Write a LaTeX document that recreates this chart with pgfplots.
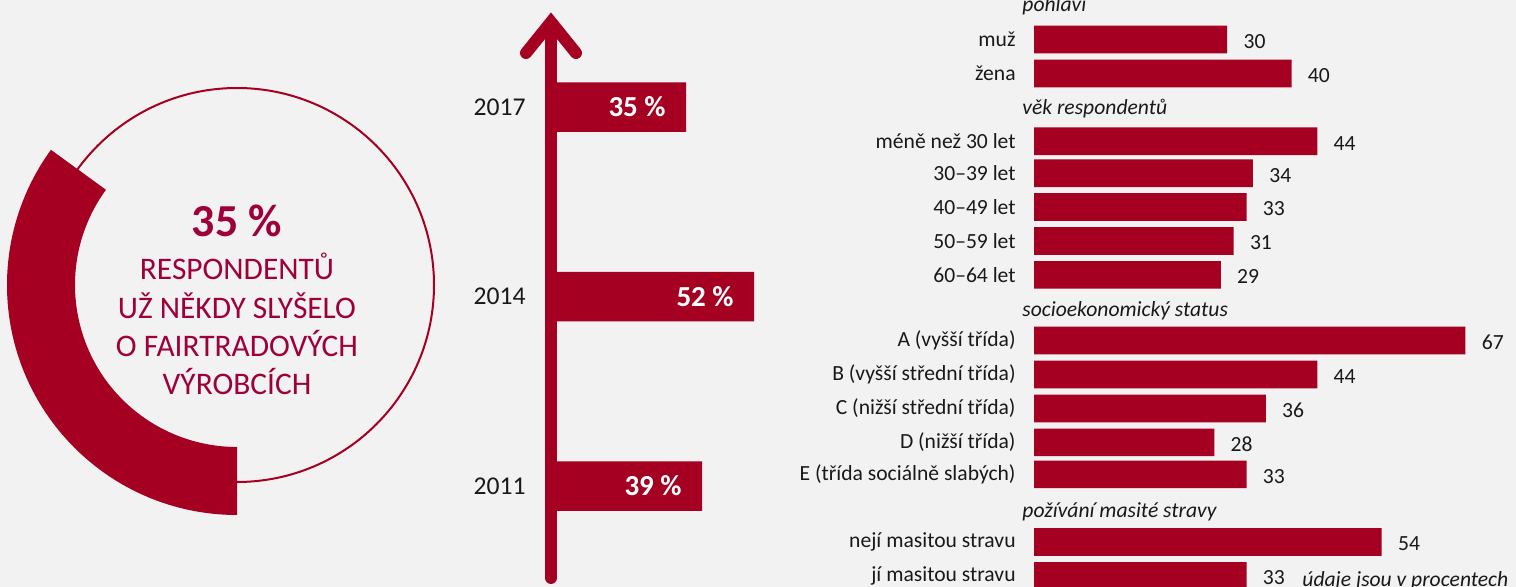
\documentclass[border=0pt]{standalone}
\usepackage{pgfplots}
\pgfplotsset{compat=1.18}
\usepackage{fontspec}
\setmainfont{Carlito}
\definecolor{crim}{RGB}{165,0,33}
\definecolor{txtred}{RGB}{158,0,58}
\definecolor{bg}{RGB}{242,242,242}
\definecolor{dark}{RGB}{25,25,25}
\newcommand{\fs}[1]{\fontsize{#1}{1.2\dimexpr#1\relax}\selectfont}
\begin{document}
\begin{tikzpicture}
\path[use as bounding box] (0pt,0pt) rectangle (758pt,-293.5pt);
\clip (0pt,0pt) rectangle (758pt,-293.5pt);
\fill[bg] (0pt,0pt) rectangle (758pt,-293.5pt);
% ---- donut (35 %)
\begin{scope}[x=0.5pt,y=-0.5pt]
\draw[crim, line width=1pt] (237,285) circle[radius=98.5pt];
\end{scope}
\begin{scope}[shift={(118.5pt,-142.5pt)}]
\fill[crim] (270:115pt) arc[start angle=270,end angle={270-3.6*35},radius=115pt]
  -- ({270-3.6*35}:81pt) arc[start angle={270-3.6*35},end angle=270,radius=81pt] -- cycle;
\end{scope}
\begin{scope}[x=0.5pt,y=-0.5pt]
\node[anchor=base, font=\fs{22.9pt}\bfseries, text=txtred, inner sep=0pt] at (237,237) {35 \%};
\node[anchor=base, font=\fs{15.7pt}, text=txtred, inner sep=0pt] at (237,280) {RESPONDENTŮ};
\node[anchor=base, font=\fs{15.7pt}, text=txtred, inner sep=0pt] at (237,319) {UŽ NĚKDY SLYŠELO};
\node[anchor=base, font=\fs{15.7pt}, text=txtred, inner sep=0pt] at (237,357) {O FAIRTRADOVÝCH};
\node[anchor=base, font=\fs{15.7pt}, text=txtred, inner sep=0pt] at (237,395) {VÝROBCÍCH};
\end{scope}
% ---- timeline
\begin{axis}[at={(273pt,0pt)}, anchor=north west, scale only axis,
  width=127pt, height=293.5pt, xmin=0, xmax=63.5, ymin=0, ymax=587, y dir=reverse,
  xbar, bar width=49.5, hide x axis, axis line style={draw=none}, tick style={draw=none},
  major tick length=0pt, ytick={107,296.5,486}, yticklabels={2017,2014,2011},
  yticklabel style={font=\fs{12.8pt}, text=dark, inner sep=0pt, xshift=-10pt},
  /pgf/number format/assume math mode=true,
  nodes near coords={\pgfmathprintnumber{\pgfplotspointmeta}~\%},
  every node near coord/.append style={anchor=east, xshift=-10pt, text=white, font=\fs{14.5pt}\bfseries, inner sep=0pt},
  clip=false]
\addplot[fill=crim, draw=none] coordinates {(35,107) (52,296.5) (39,486)};
\end{axis}
\begin{scope}[x=0.5pt,y=-0.5pt]
\draw[crim, line width=6pt, line cap=round] (551,24) -- (551,578);
\draw[crim, line width=6pt, line cap=round, line join=miter] (526,53) -- (551,22) -- (576,53);
\end{scope}
% ---- right bar chart
\begin{axis}[at={(517pt,0pt)}, anchor=north west, scale only axis,
  width=241pt, height=293.5pt, xmin=0, xmax=74.85, ymin=0, ymax=587, y dir=reverse,
  xbar, bar width=27.6, hide x axis, axis line style={draw=none}, tick style={draw=none},
  major tick length=0pt,
  ytick={39.5,73.5,141.2,173.2,207,241,274.8,340.5,374.5,408.5,442.3,474.3,542,576},
  yticklabels={muž,žena,méně než 30 let,30–39 let,40–49 let,50–59 let,60–64 let,
    A (vyšší třída),B (vyšší střední třída),C (nižší střední třída),D (nižší třída),
    E (třída sociálně slabých),nejí masitou stravu,jí masitou stravu},
  yticklabel style={font=\fs{10.8pt}, text=dark, inner sep=0pt, xshift=-9pt},
  /pgf/number format/assume math mode=true,
  nodes near coords,
  every node near coord/.append style={anchor=west, xshift=8pt, yshift=-1pt, text=dark, font=\fs{10.8pt}, inner sep=0pt},
  clip=false]
\addplot[fill=crim, draw=none] coordinates {
  (30,39.5) (40,73.5)
  (44,141.2) (34,173.2) (33,207) (31,241) (29,274.8)
  (67,340.5) (44,374.5) (36,408.5) (28,442.3) (33,474.3)
  (54,542) (33,576)};
\end{axis}
\begin{scope}[x=0.5pt,y=-0.5pt, font=\fs{10.8pt}\itshape, text=dark]
\node[anchor=base west, inner sep=0pt] at (1022,11.7) {pohlaví};
\node[anchor=base west, inner sep=0pt] at (1022,114.3) {věk respondentů};
\node[anchor=base west, inner sep=0pt] at (1022,316.7) {socioekonomický status};
\node[anchor=base west, inner sep=0pt] at (1022,517.5) {požívání masité stravy};
\node[anchor=base west, inner sep=0pt] at (1302,587) {údaje jsou v procentech};
\end{scope}
\end{tikzpicture}
\end{document}
